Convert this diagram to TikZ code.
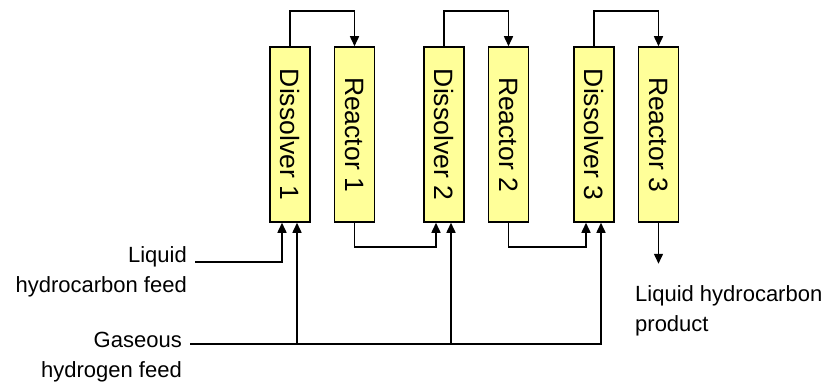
\documentclass[tikz,border=0pt]{standalone}
\usepackage{fontspec}
\setmainfont{Liberation Sans}
\usepackage{tikz}
\usetikzlibrary{arrows.meta,positioning}
\definecolor{VesselFill}{HTML}{FFFF99}

\begin{document}
\begin{tikzpicture}[x=1pt,y=-1pt,
    vessel/.style={draw=black,line width=1.5pt,fill=VesselFill,inner sep=0pt,
                   minimum width=40pt,minimum height=175pt,
                   font=\fontsize{26.5}{30}\selectfont},
    flow/.style={line width=1.5pt,-{Triangle[length=10pt,width=9pt]}},
    streamlabel/.style={inner sep=0pt,font=\fontsize{22}{30}\selectfont}]
  \useasboundingbox (0,0) rectangle (828,385);
  % vessels
  \node[vessel] (dis1) at (290,134.5) {\rotatebox{-90}{Dissolver 1}};
  \node[vessel,right=23pt of dis1] (rea1) {\rotatebox{-90}{Reactor 1}};
  \node[vessel,right=48pt of rea1] (dis2) {\rotatebox{-90}{Dissolver 2}};
  \node[vessel,right=23pt of dis2] (rea2) {\rotatebox{-90}{Reactor 2}};
  \node[vessel,right=44pt of rea2] (dis3) {\rotatebox{-90}{Dissolver 3}};
  \node[vessel,right=23pt of dis3] (rea3) {\rotatebox{-90}{Reactor 3}};
  % dissolver to reactor
  \draw[flow] (dis1.north) -- ++(0,-35) -| (rea1.north);
  \draw[flow] (dis2.north) -- ++(0,-35) -| (rea2.north);
  \draw[flow] (dis3.north) -- ++(0,-35) -| (rea3.north);
  % reactor to next dissolver
  \draw[flow] (rea1.south) -- ++(0,24) -| ([xshift=-8pt]dis2.south);
  \draw[flow] (rea2.south) -- ++(0,24) -| ([xshift=-8pt]dis3.south);
  % feeds
  \coordinate (liq) at (195,262);
  \coordinate (gas) at (190,344);
  \node[streamlabel,anchor=north east,align=right] (liqtxt) at (187,246)
        {Liquid\\hydrocarbon feed};
  \node[streamlabel,anchor=north east,align=right] (gastxt) at (182,332)
        {Gaseous\\hydrogen feed};
  \draw[flow] (liq) -| ([xshift=-8pt]dis1.south);
  \draw[flow] (gas) -| ([xshift=7pt]dis3.south);
  \draw[flow] ([xshift=7pt]dis1.south |- gas) -- ([xshift=7pt]dis1.south);
  \draw[flow] ([xshift=7pt]dis2.south |- gas) -- ([xshift=7pt]dis2.south);
  % product
  \coordinate (prod) at ([yshift=-41pt]rea3.south);
  \draw[flow] (rea3.south) -- (prod);
  \node[streamlabel,anchor=north west,align=left] (prodtxt) at (635,285)
        {Liquid hydrocarbon\\product};
\end{tikzpicture}
\end{document}
